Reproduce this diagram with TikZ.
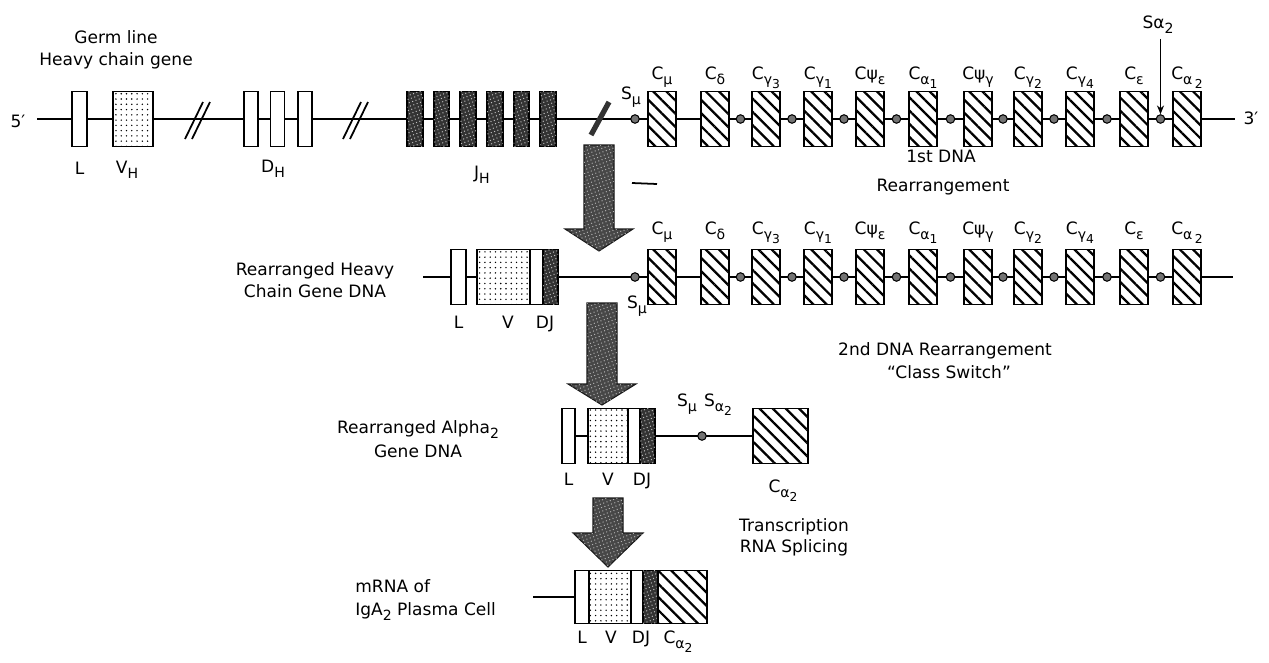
\documentclass[tikz,border=0pt]{standalone}
\usepackage{fontspec}
\setmainfont{DejaVu Sans}
\usetikzlibrary{patterns.meta,arrows.meta}
% lowered labels for the gene segments
\newcommand{\lowr}[1]{\raisebox{-0.6ex}{\fontsize{8}{9}\selectfont#1}}
\newcommand{\lowrr}[1]{\raisebox{-0.55ex}{\fontsize{7}{8}\selectfont#1}}
% block arrow: x, top, head start, tip, head half width
\newcommand{\blockarrow}[5]{%
  \filldraw[bigarrow] (#1-15,#2) -- (#1+15,#2) -- (#1+15,#3) -- (#1+#5,#3)
    -- (#1,#4) -- (#1-#5,#3) -- (#1-15,#3) -- cycle;}

\begin{document}
\begin{tikzpicture}[x=0.02cm,y=-0.02cm,
  every node/.style={font=\fontsize{9.7}{11.6}\selectfont,inner sep=0pt},
  dna/.style={line width=1pt},
  gbox/.style={draw,line width=1.1pt,fill=white,minimum height=1.1cm,minimum width=0.3cm,outer sep=0pt},
  vbox/.style={gbox,postaction={pattern={Dots[distance=3pt,radius=0.45pt]}}},
  jbox/.style={gbox,fill=black!80,postaction={pattern={Dots[distance=2pt,radius=0.4pt,angle=20]},pattern color=black!25}},
  cbox/.style={gbox,minimum width=0.56cm,postaction={pattern={Lines[angle=-45,distance=5.3pt,line width=1.3pt]}}},
  swc/.style={circle,draw,line width=0.6pt,fill=black!55,minimum size=0.17cm},
  bigarrow/.style={draw=black!90,line width=0.6pt,fill=black!72,postaction={pattern={Dots[distance=2pt,radius=0.4pt,angle=20]},pattern color=black!30}}]
  \useasboundingbox (0,0) rectangle (1269,663);

  % ---- germ line heavy chain gene ----
  \node[anchor=base] (gl1) at (116,43) {Germ line};
  \node[anchor=base] (gl2) at (116,65) {Heavy chain gene};
  \node[anchor=base] (p5) at (18,127) {5′};
  \node[anchor=base] (p3) at (1251,124) {3′};
  \coordinate (r1a) at (37,119);
  \coordinate (r1b) at (1235,119);
  \draw[dna] (r1a) -- (r1b);
  \foreach \bx in {185,192,343,350} \draw[dna] (\bx,139) -- ++(18,-37);
  \draw[line width=3pt,black!80] (591,135) -- (609,102);
  \node[gbox] (r1L) at (79.5,119) {};
  \node[vbox,minimum width=0.8cm] (r1V) at (133,119) {};
  \foreach \dx [count=\i] in {251,277.5,305} \node[gbox,minimum width=0.28cm] (r1D\i) at (\dx,119) {};
  \foreach \i in {0,...,5} \node[jbox,minimum width=0.31cm] (r1J\i) at ({415+26.6*\i},119) {};
  \node[anchor=base] at (79.5,174) {L};
  \node[anchor=base] at (127,173) {V\lowr{H}};
  \node[anchor=base] at (273,172) {D\lowr{H}};
  \node[anchor=base] at (482,178) {J\lowr{H}};
  \node[swc] (r1Sm) at (635,119) {};
  \node[anchor=base] at (631,99) {S\lowr{μ}};
  \node[anchor=base] at (941,162) {1st DNA};
  \node[anchor=base] at (943,191) {Rearrangement};
  \draw[dna] (632,183) -- (657,184);

  % ---- rearranged heavy chain gene ----
  \node[anchor=base] at (315,275) {Rearranged Heavy};
  \node[anchor=base] at (315,297) {Chain Gene DNA};
  \coordinate (r2a) at (423,277);
  \coordinate (r2b) at (1233,277);
  \draw[dna] (r2a) -- (r2b);
  \node[gbox] (r2L) at (458.5,277) {};
  \node[vbox,minimum width=1.06cm] (r2V) at (503.5,277) {};
  \node[gbox,minimum width=0.26cm] (r2D) at (536.5,277) {};
  \node[jbox] (r2J) at (550.5,277) {};
  \node[swc] (r2Sm) at (635,277) {};
  \node[anchor=base] at (637,308) {S\lowr{μ}};
  \node[anchor=base] at (458.5,328) {L};
  \node[anchor=base] at (508,328) {V};
  \node[anchor=base] at (545,328) {DJ};
  \node[anchor=base] at (945,355) {2nd DNA Rearrangement};
  \node[anchor=base] at (949,378) {``Class Switch''};

  % ---- constant regions, rows 1 and 2 ----
  \foreach \cx/\cl [count=\i] in {662/{C\lowr{μ}},715/{C\lowr{δ}},
      766/{C\lowr{γ\lowrr{3}}},818/{C\lowr{γ\lowrr{1}}},
      870/{Cψ\lowr{ε}},923/{C\lowr{α\lowrr{1}}},978/{Cψ\lowr{γ}},
      1028/{C\lowr{γ\lowrr{2}}},1080/{C\lowr{γ\lowrr{4}}},
      1134/{C\lowr{ε}},1187/{C\lowr{α\,\lowrr{2}}}}{
    \node[cbox] (r1C\i) at (\cx,119) {};
    \node[anchor=base] at (\cx,79) {\cl};
    \node[cbox] (r2C\i) at (\cx,277) {};
    \node[anchor=base] at (\cx,234) {\cl};
  }
  \foreach \i [evaluate=\i as \j using int(\i+1)] in {2,...,10}{
    \path (r1C\i) -- (r1C\j) node[midway,swc] (r1S\i) {};
    \path (r2C\i) -- (r2C\j) node[midway,swc] (r2S\i) {};
  }
  \node[anchor=base] (sa2) at (1158,28) {Sα\lowr{2}};
  \draw[-{Stealth[length=5pt,width=4pt]},line width=0.8pt] (r1S10 |- sa2.south) ++(0,5) -- (r1S10.north);

  % ---- rearranged alpha2 gene ----
  \node[anchor=base] at (418,433) {Rearranged Alpha\lowr{2}};
  \node[anchor=base] at (418,457) {Gene DNA};
  \coordinate (r3a) at (575,436);
  \coordinate (r3b) at (753,436);
  \draw[dna] (r3a) -- (r3b);
  \node[gbox,minimum width=0.26cm] (r3L) at (568.5,436) {};
  \node[vbox,minimum width=0.8cm] (r3V) at (608,436) {};
  \node[gbox,minimum width=0.24cm] (r3D) at (634,436) {};
  \node[jbox] (r3J) at (647.5,436) {};
  \node[cbox,minimum width=1.1cm] (r3C) at (780.5,436) {};
  \node[swc] (r3S) at (702,436) {};
  \node[anchor=base] at (687,406) {S\lowr{μ}};
  \node[anchor=base] at (718,406) {S\lowr{α\lowrr{2}}};
  \node[anchor=base] at (568.5,485) {L};
  \node[anchor=base] at (608,485) {V};
  \node[anchor=base] at (642,485) {DJ};
  \node[anchor=base] at (783,492) {C\lowr{α\lowrr{2}}};
  \node[anchor=base] at (794,531) {Transcription};
  \node[anchor=base] at (794,552) {RNA Splicing};

  % ---- mRNA ----
  \node[anchor=base west] at (355,592) {mRNA of};
  \node[anchor=base west] at (355,615) {IgA\lowr{2} Plasma Cell};
  \node[gbox,minimum width=0.28cm,minimum height=1.06cm] (r4L) at (582,597) {};
  \node[vbox,minimum width=0.84cm,minimum height=1.06cm] (r4V) at (610,597) {};
  \node[gbox,minimum width=0.24cm,minimum height=1.06cm] (r4D) at (637,597) {};
  \node[jbox,minimum height=1.06cm] (r4J) at (650.5,597) {};
  \node[cbox,minimum width=0.98cm,minimum height=1.06cm] (r4C) at (682.5,597) {};
  \coordinate (r4a) at (533,597);
  \draw[dna] (r4a) -- (r4L);
  \node[anchor=base] at (582,643) {L};
  \node[anchor=base] at (611,643) {V};
  \node[anchor=base] at (641,643) {DJ};
  \node[anchor=base] at (678,643) {C\lowr{α\lowrr{2}}};

  % ---- block arrows ----
  \blockarrow{599}{145}{229}{251}{34}
  \blockarrow{602}{303}{384}{405}{34}
  \blockarrow{608}{498}{533}{567}{35}
\end{tikzpicture}
\end{document}
